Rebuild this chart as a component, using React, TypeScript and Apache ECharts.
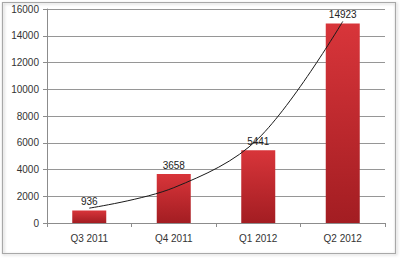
import React, { useEffect, useRef } from "react";
import * as echarts from "echarts";

const categories = ["Q3 2011", "Q4 2011", "Q1 2012", "Q2 2012"];
const values = [936, 3658, 5441, 14923];
const trendValues = [1110, 2640, 6310, 15070];
const yTicks = { min: 0, max: 16000, interval: 2000 };

export default function App() {
  const ref = useRef<HTMLDivElement>(null);
  useEffect(() => {
    document.body.style.margin = "0";
    const chart = echarts.init(ref.current!, null, { renderer: "svg" });
    const font = "Liberation Sans";
    chart.setOption({
      animation: false,
      backgroundColor: "#ffffff",
      graphic: [
        {
          type: "rect",
          shape: { x: 2.5, y: 2.5, width: 393, height: 251 },
          style: { fill: "none", stroke: "#a8a8a8", lineWidth: 1.2, shadowColor: "rgba(0,0,0,0.25)", shadowBlur: 3, shadowOffsetX: 1, shadowOffsetY: 1 },
          z: 0,
        },
      ],
      grid: { left: 47, right: 15, top: 9, bottom: 36, containLabel: false },
      xAxis: {
        type: "category",
        data: categories,
        boundaryGap: true,
        axisLine: { lineStyle: { color: "#8c8c8c", width: 1 } },
        axisTick: { show: true, length: 4, inside: false, lineStyle: { color: "#8c8c8c" } },
        axisLabel: { color: "#333", fontFamily: font, fontSize: 10, margin: 10 },
      },
      yAxis: {
        type: "value",
        min: yTicks.min,
        max: yTicks.max,
        interval: yTicks.interval,
        axisLine: { show: true, lineStyle: { color: "#8c8c8c", width: 1 } },
        axisTick: { show: true, length: 4, lineStyle: { color: "#8c8c8c" } },
        splitLine: { lineStyle: { color: "#969696", width: 1 } },
        axisLabel: { color: "#333", fontFamily: font, fontSize: 10, margin: 8, formatter: (v: number) => String(v) },
      },
      series: [
        {
          type: "bar",
          data: values,
          barWidth: 34,
          itemStyle: {
            color: new echarts.graphic.LinearGradient(0, 0, 0, 1, [
              { offset: 0, color: "#d8353a" },
              { offset: 1, color: "#a31d22" },
            ]),
          },
          label: { show: true, position: "top", distance: 4, color: "#222", fontFamily: font, fontSize: 10 },
          z: 2,
        },
        {
          type: "line",
          data: trendValues,
          smooth: 0.35,
          symbol: "none",
          lineStyle: { color: "#1a1a1a", width: 1 },
          z: 3,
        },
      ],
    });
    return () => chart.dispose();
  }, []);
  return <div ref={ref} style={{ width: 400, height: 259 }} />;
}
